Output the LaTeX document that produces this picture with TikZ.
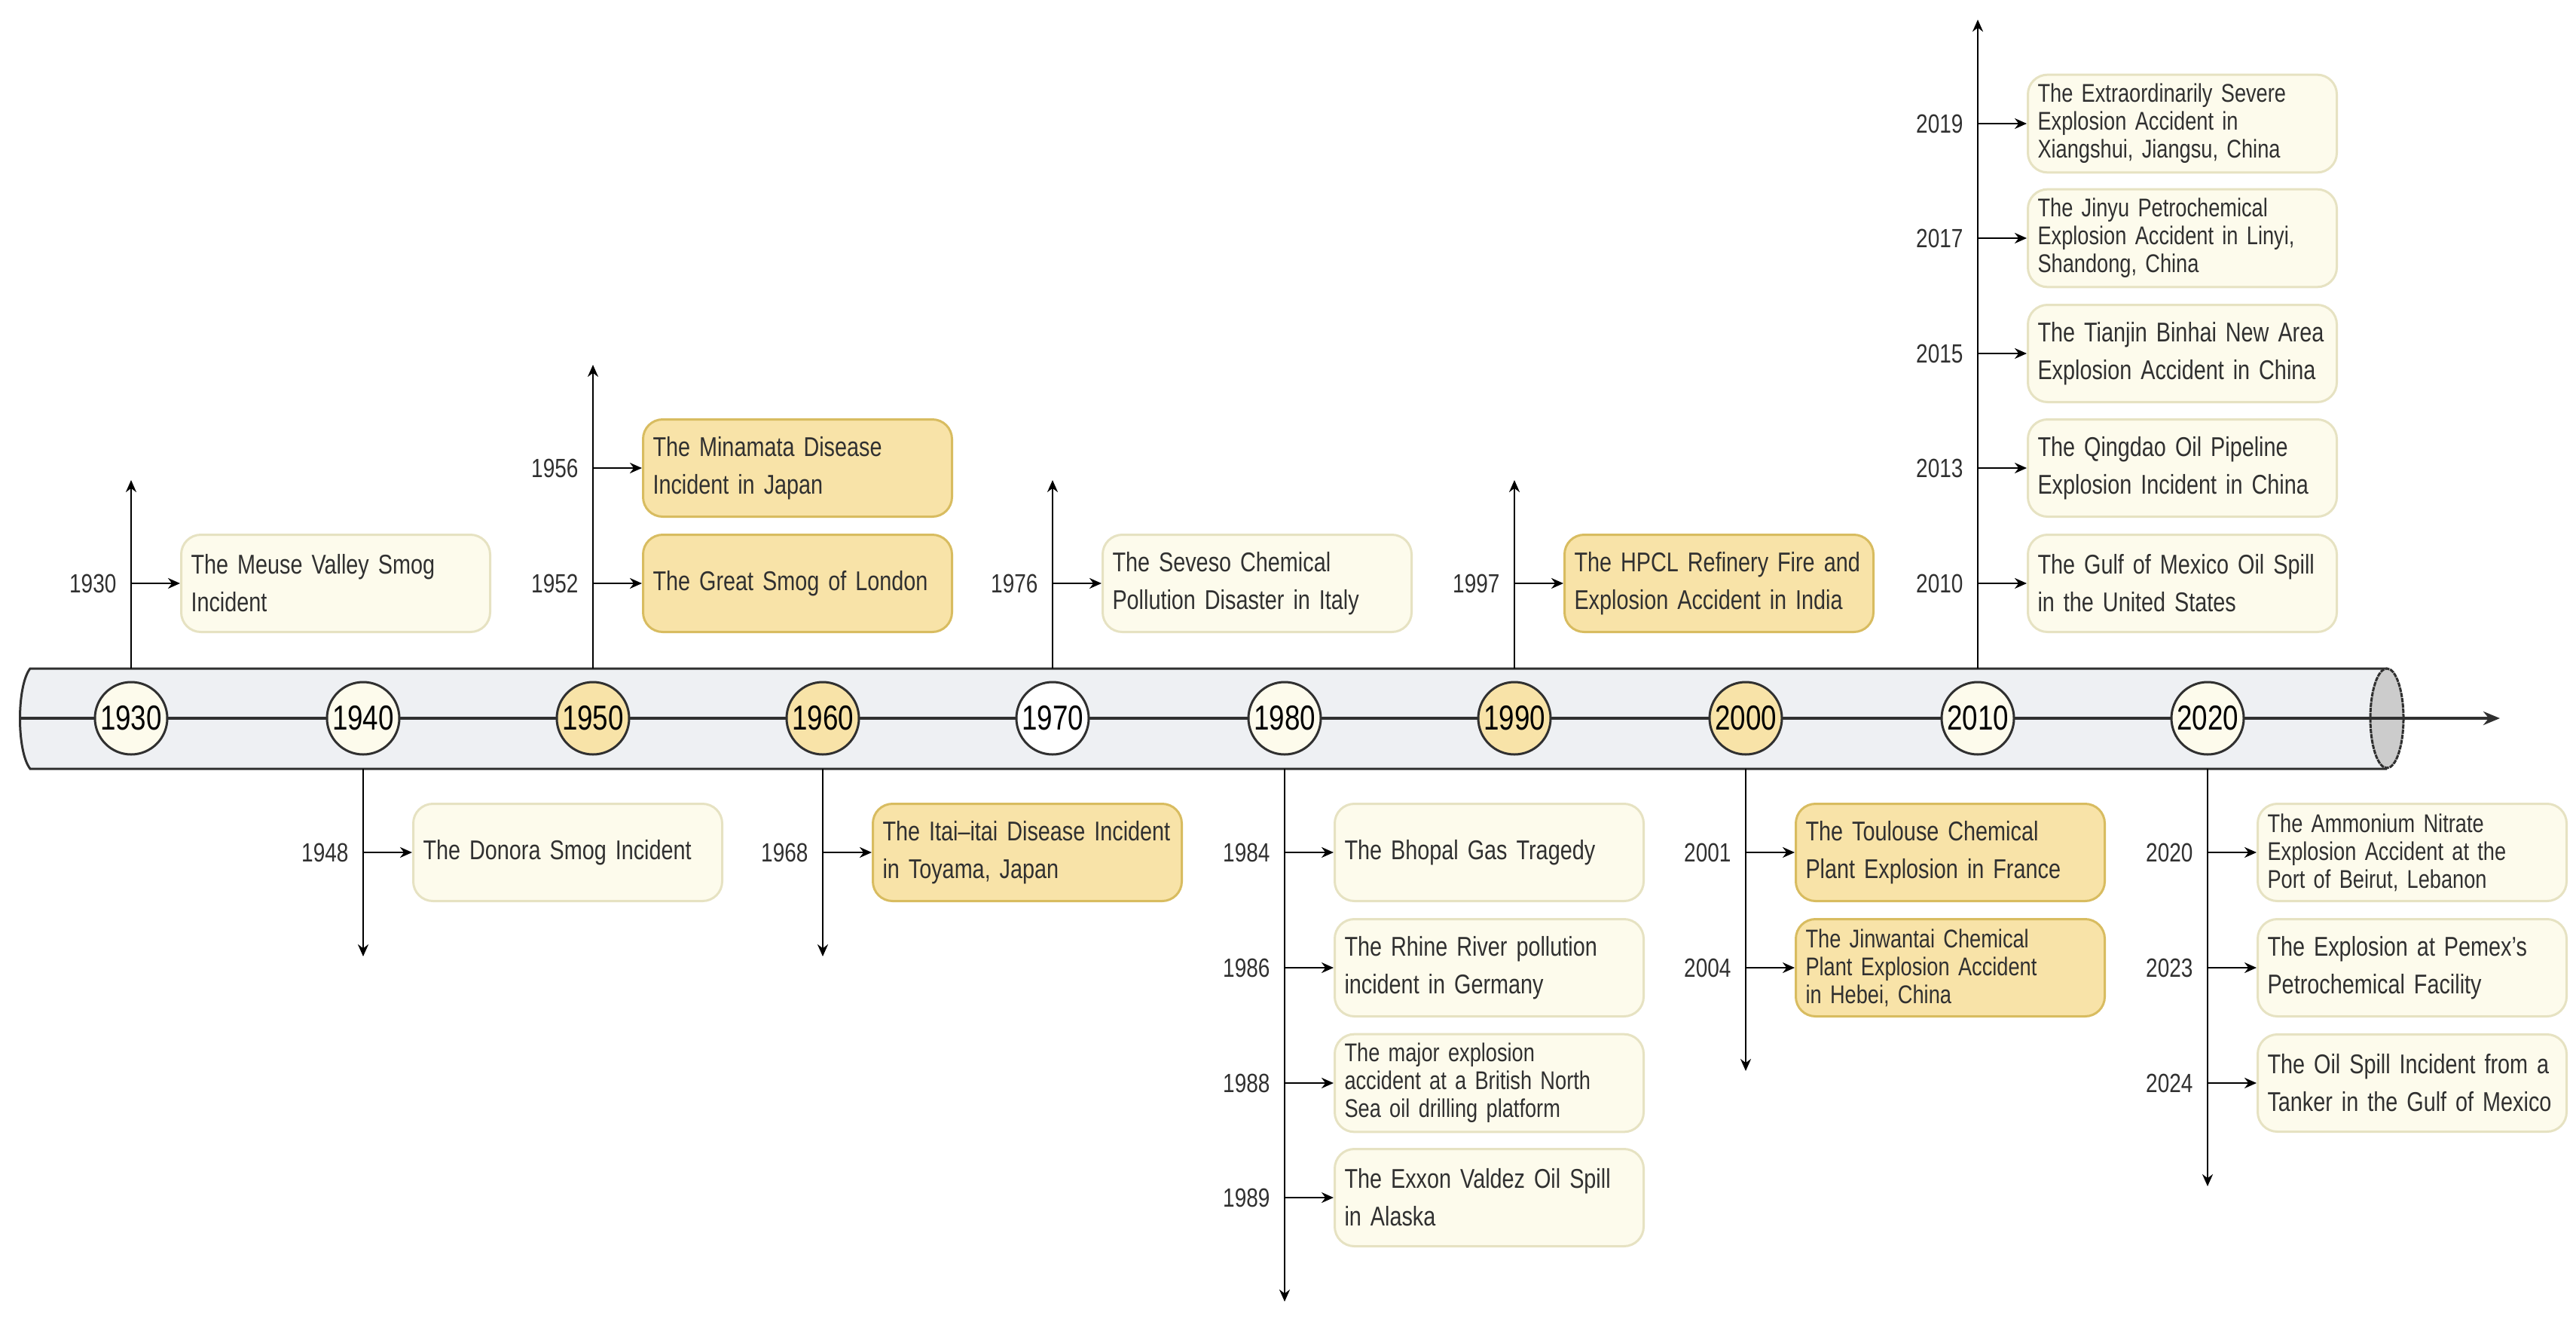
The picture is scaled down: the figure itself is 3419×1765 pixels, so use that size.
\documentclass[tikz,border=0pt]{standalone}
\usepackage{fontspec}
\setmainfont{Liberation Sans}[FakeStretch=0.8]
\usetikzlibrary{arrows.meta}
\definecolor{lf}{HTML}{FDFBEC}
\definecolor{lb}{HTML}{E6E2C2}
\definecolor{df}{HTML}{F8E3A8}
\definecolor{db}{HTML}{D8BC60}
\definecolor{tube}{HTML}{EEF0F3}
\definecolor{ink}{HTML}{303030}
\tikzset{
 box/.style={draw=lb,fill=lf,line width=3pt,rounded corners=26pt,minimum width=410pt,minimum height=129pt,text width=384pt,align=left,inner sep=12pt,anchor=west,font=\fontsize{36}{50}\selectfont,text=ink},
 dark/.style={draw=db,fill=df},
 three/.style={font=\fontsize{34}{37}\selectfont},
 yr/.style={anchor=east,font=\fontsize{35}{40}\selectfont,text=ink},
 circ/.style={circle,draw=ink,line width=3pt,minimum size=96pt,inner sep=0pt,fill=lf,font=\fontsize{46}{50}\selectfont},
 ln/.style={line width=2.5pt,draw=black},
 arr/.style={ln,-{Stealth[length=16pt,width=14pt]}},
}
\newcommand\ev[6]{% name, linex, y, year, text, style
 \coordinate (#1s) at (#2,#3);
 \node[yr] (#1y) at ([xshift=-16pt]#1s) {#4};
 \node[box,#6] (#1) at ([xshift=65pt]#1s) {#5};
 \draw[arr] (#1s) -- (#1);
}
\begin{document}
\begin{tikzpicture}[x=1pt,y=1pt]
\useasboundingbox (0,0) rectangle (3419,-1765);
% tube
\draw[ink,line width=3pt,fill=tube] (3168,-887) -- (40,-887) .. controls (22,-910) and (22,-997) .. (40,-1020) -- (3168,-1020);
\draw[ink,line width=3pt,fill=black!20,dashed,dash pattern=on 6pt off 1pt] (3168,-953) ellipse (22 and 66);
\coordinate (ts) at (26,-953);
\coordinate (te) at (3318,-953);
\draw[ink,line width=4pt,-{Stealth[length=22pt,width=18pt]}] (ts) -- (te);
% decade circles
\foreach \n/\x/\c in {1930/174/lf,1940/482/lf,1950/787/df,1960/1092/df,1970/1397/white,1980/1705/lf,1990/2010/df,2000/2317/df,2010/2625/lf,2020/2930/lf}{
 \node[circ,fill=\c] (c\n) at (\x,-953) {\n};
}
% vertical branches
\coordinate (u1930) at (174,-637);
\coordinate (u1950) at (787,-484);
\coordinate (u1970) at (1397,-637);
\coordinate (u1990) at (2010,-637);
\coordinate (u2010) at (2625,-26);
\coordinate (d1940) at (482,-1269);
\coordinate (d1960) at (1092,-1269);
\coordinate (d1980) at (1705,-1727);
\coordinate (d2000) at (2317,-1421);
\coordinate (d2020) at (2930,-1574);
\foreach \n in {1930,1950,1970,1990,2010}{\draw[arr] (c\n.north|-0,-887) -- (u\n);}
\foreach \n in {1940,1960,1980,2000,2020}{\draw[arr] (c\n.south|-0,-1020) -- (d\n);}
% events above
\ev{e1930}{174}{-774}{1930}{The Meuse Valley Smog\\Incident}{}
\ev{e1952}{787}{-774}{1952}{The Great Smog of London}{dark}
\ev{e1956}{787}{-621}{1956}{The Minamata Disease\\Incident in Japan}{dark}
\ev{e1976}{1397}{-774}{1976}{The Seveso Chemical\\Pollution Disaster in Italy}{}
\ev{e1997}{2010}{-774}{1997}{The HPCL Refinery Fire and\\Explosion Accident in India}{dark}
\ev{e2010}{2625}{-774}{2010}{The Gulf of Mexico Oil Spill\\in the United States}{}
\ev{e2013}{2625}{-621}{2013}{The Qingdao Oil Pipeline\\Explosion Incident in China}{}
\ev{e2015}{2625}{-469}{2015}{The Tianjin Binhai New Area\\Explosion Accident in China}{}
\ev{e2017}{2625}{-316}{2017}{The Jinyu Petrochemical\\Explosion Accident in Linyi,\\Shandong, China}{three}
\ev{e2019}{2625}{-164}{2019}{The Extraordinarily Severe\\Explosion Accident in\\Xiangshui, Jiangsu, China}{three}
% events below
\ev{e1948}{482}{-1131}{1948}{The Donora Smog Incident}{}
\ev{e1968}{1092}{-1131}{1968}{The Itai–itai Disease Incident\\in Toyama, Japan}{dark}
\ev{e1984}{1705}{-1131}{1984}{The Bhopal Gas Tragedy}{}
\ev{e1986}{1705}{-1284}{1986}{The Rhine River pollution\\incident in Germany}{}
\ev{e1988}{1705}{-1437}{1988}{The major explosion\\accident at a British North\\Sea oil drilling platform}{three}
\ev{e1989}{1705}{-1589}{1989}{The Exxon Valdez Oil Spill\\in Alaska}{}
\ev{e2001}{2317}{-1131}{2001}{The Toulouse Chemical\\Plant Explosion in France}{dark}
\ev{e2004}{2317}{-1284}{2004}{The Jinwantai Chemical\\Plant Explosion Accident\\in Hebei, China}{dark,three}
\ev{e2020}{2930}{-1131}{2020}{The Ammonium Nitrate\\Explosion Accident at the\\Port of Beirut, Lebanon}{three}
\ev{e2023}{2930}{-1284}{2023}{The Explosion at Pemex's\\Petrochemical Facility}{}
\ev{e2024}{2930}{-1437}{2024}{The Oil Spill Incident from a\\Tanker in the Gulf of Mexico}{}
\end{tikzpicture}
\end{document}
